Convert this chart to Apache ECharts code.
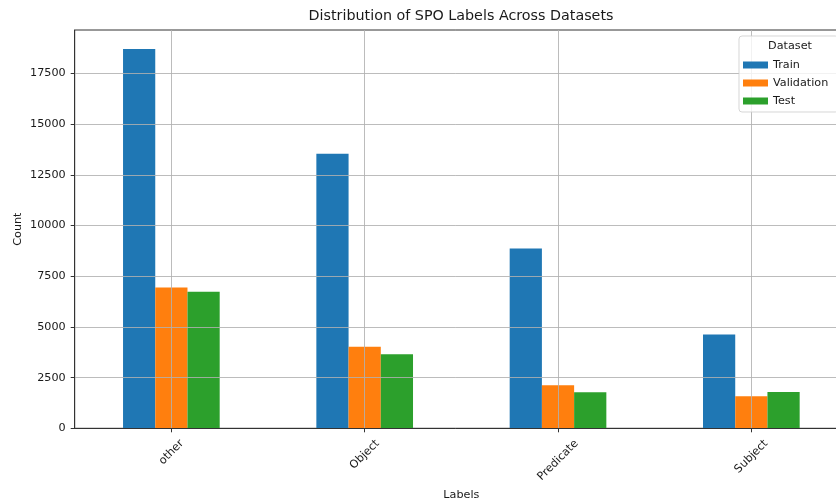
<!DOCTYPE html>
<html>
<head>
<meta charset="utf-8">
<script src="https://cdn.jsdelivr.net/npm/echarts@6/dist/echarts.min.js"></script>
<style>
  html, body { margin: 0; padding: 0; background: #fff; }
  #chart { width: 836px; height: 502px; }
</style>
</head>
<body>
<div id="chart"></div>
<script>
// ---- data ----
const categories = ['other', 'Object', 'Predicate', 'Subject'];
const seriesNames = ['Train', 'Validation', 'Test'];
const train = [18710, 13540, 8870, 4630];
const validation = [6950, 4020, 2120, 1580];
const test = [6730, 3650, 1780, 1790];
const yTicks = [0, 2500, 5000, 7500, 10000, 12500, 15000, 17500];

// ---- styling / layout ----
const FONT = '"DejaVu Sans", sans-serif';
const FS = 11.2;
const colors = ['#1f77b4', '#ff7f0e', '#2ca02c'];
const textColor = '#1a1a1a';

// emulate matplotlib's centered 45° labels: shift longer labels further down
const ctx = document.createElement('canvas').getContext('2d');
ctx.font = FS + 'px "DejaVu Sans"';
const offs = categories.map(c => 9.5 + (ctx.measureText(c).width + FS) * 0.3536);
const baseOff = Math.min(...offs);
const rich = {};
categories.forEach((c, i) => {
  const p = 1.414 * (offs[i] - baseOff);
  rich['c' + i] = { fontSize: FS, fontFamily: FONT, color: textColor, padding: [p, p, 0, 0] };
});

const yMax = Math.max(...train, ...validation, ...test) * 1.05;

const chart = echarts.init(document.getElementById('chart'), null, { renderer: 'canvas' });
chart.setOption({
  backgroundColor: '#fff',
  animation: false,
  color: colors,
  title: [
    {
      text: 'Distribution of SPO Labels Across Datasets',
      left: 461, top: 9.5, textAlign: 'center', padding: 0,
      textStyle: { fontFamily: FONT, fontSize: 14.3, fontWeight: 'normal', color: textColor }
    },
    {
      text: 'Dataset',
      left: 790, top: 41, textAlign: 'center', padding: 0, z: 12,
      textStyle: { fontFamily: FONT, fontSize: FS, fontWeight: 'normal', color: textColor }
    }
  ],
  legend: {
    orient: 'vertical',
    left: 739, top: 36,
    padding: [22, 10, 4, 4],
    itemWidth: 25, itemHeight: 7, itemGap: 4, itemTextGap: 9,
    icon: 'rect',
    backgroundColor: 'rgba(255,255,255,0.8)',
    borderColor: 'rgba(204,204,204,0.8)', borderWidth: 1, borderRadius: 3,
    z: 10,
    textStyle: { fontFamily: FONT, fontSize: FS, color: textColor, lineHeight: 14 },
    data: seriesNames
  },
  grid: {
    left: 74.7, top: 30, width: 773.3, height: 398.3,
    containLabel: false, outerBoundsMode: 'none',
    show: true, borderColor: '#333', borderWidth: 1, backgroundColor: 'transparent'
  },
  xAxis: {
    type: 'category',
    data: categories,
    z: 3,
    name: 'Labels', nameLocation: 'middle', nameGap: 58,
    nameTextStyle: { fontFamily: FONT, fontSize: FS, color: textColor },
    axisLine: { show: true, lineStyle: { color: '#333', width: 1 } },
    axisTick: { show: true, alignWithLabel: true, length: 4, lineStyle: { color: '#333' } },
    splitLine: { show: true, alignWithLabel: true, lineStyle: { color: 'rgba(176,176,176,0.85)', width: 1 } },
    axisLabel: {
      rotate: 45, align: 'center', verticalAlign: 'middle', margin: baseOff,
      interval: 0,
      fontFamily: FONT, fontSize: FS, color: textColor,
      formatter: (v, i) => '{c' + i + '|' + v + '}',
      rich: rich
    }
  },
  yAxis: {
    type: 'value',
    min: 0, max: yMax, interval: 2500,
    z: 3,
    name: 'Count', nameLocation: 'middle', nameGap: 51, nameRotate: 90,
    nameMoveOverlap: false,
    nameTextStyle: { fontFamily: FONT, fontSize: FS, color: textColor },
    axisLine: { show: true, lineStyle: { color: '#333', width: 1 } },
    axisTick: { show: true, length: 4, lineStyle: { color: '#333' }, customValues: yTicks },
    splitLine: { show: true, lineStyle: { color: 'rgba(176,176,176,0.85)', width: 1 } },
    axisLabel: {
      customValues: yTicks, margin: 9,
      formatter: v => String(v),
      fontFamily: FONT, fontSize: FS, color: textColor
    }
  },
  series: [
    { name: seriesNames[0], type: 'bar', data: train, barGap: '0%', barCategoryGap: '50%' },
    { name: seriesNames[1], type: 'bar', data: validation, barGap: '0%', barCategoryGap: '50%' },
    { name: seriesNames[2], type: 'bar', data: test, barGap: '0%', barCategoryGap: '50%' }
  ]
});
</script>
</body>
</html>
